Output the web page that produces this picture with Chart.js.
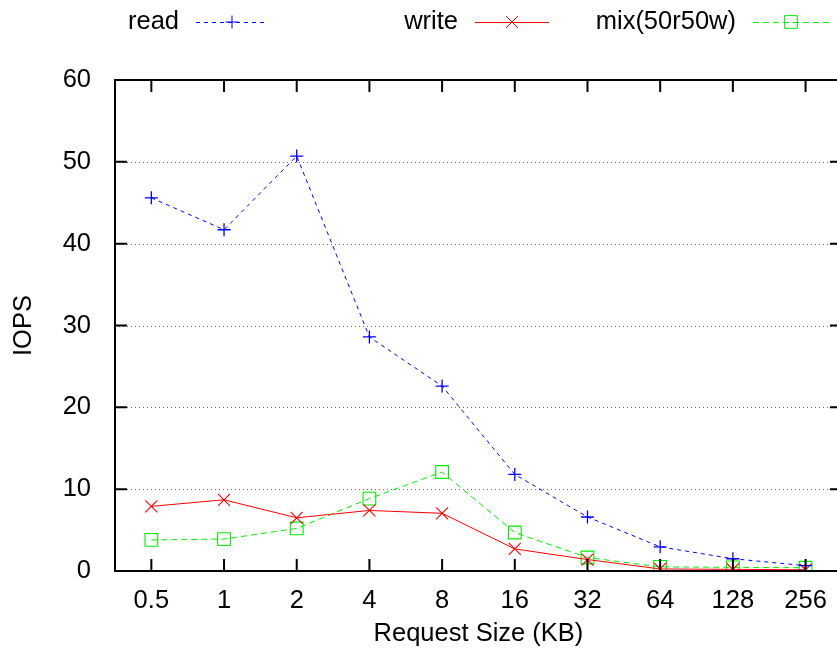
<!DOCTYPE html>
<html>
<head>
<meta charset="utf-8">
<script src="https://cdn.jsdelivr.net/npm/chart.js@4"></script>
<style>
  html, body { margin: 0; padding: 0; background: #fff; overflow: hidden; }
  #wrap { width: 837px; height: 655px; overflow: hidden; }
</style>
</head>
<body>
<div id="wrap"><canvas id="chart" width="852" height="655"></canvas></div>
<script>
const sizes = ['0.5', '1', '2', '4', '8', '16', '32', '64', '128', '256'];
const readIops = [45.6, 41.7, 50.7, 28.6, 22.6, 11.8, 6.6, 2.95, 1.5, 0.65];
const writeIops = [7.9, 8.7, 6.5, 7.4, 7.05, 2.7, 1.4, 0.25, 0.2, 0.15];
const mixIops = [3.8, 3.9, 5.2, 8.85, 12.1, 4.7, 1.65, 0.5, 0.45, 0.4];
const yTicks = [0, 10, 20, 30, 40, 50, 60];

const FONT = { family: '"Liberation Sans", Arial, sans-serif', size: 25.5 };

// legend slots: text right edge, sample start, sample end
const legendSlots = [
  { textRight: 179, x0: 196, x1: 268 },
  { textRight: 458, x0: 475, x1: 549 },
  { textRight: 736, x0: 753, x1: 829 }
];

// gnuplot-like frame, dotted grid, inward ticks and the legend row
const framePlugin = {
  id: 'frame',
  beforeDatasetsDraw(chart) {
    const { ctx, chartArea: a, scales: { y } } = chart;
    ctx.save();
    ctx.strokeStyle = '#666';
    ctx.lineWidth = 1;
    ctx.setLineDash([1, 3]);
    yTicks.forEach(v => {
      if (v === 0 || v === 60) return;
      const py = Math.round(y.getPixelForValue(v)) + 0.5;
      ctx.beginPath();
      ctx.moveTo(a.left, py);
      ctx.lineTo(a.right, py);
      ctx.stroke();
    });
    ctx.restore();
  },
  afterDraw(chart) {
    const { ctx, chartArea: a, scales: { x, y } } = chart;
    ctx.save();
    ctx.strokeStyle = '#000';
    ctx.lineWidth = 2;
    ctx.setLineDash([]);
    ctx.strokeRect(a.left, a.top, a.right - a.left, a.bottom - a.top);
    ctx.beginPath();
    yTicks.forEach(v => {
      const py = y.getPixelForValue(v);
      ctx.moveTo(a.left, py); ctx.lineTo(a.left + 12, py);
      ctx.moveTo(a.right, py); ctx.lineTo(a.right - 12, py);
    });
    sizes.forEach((s, i) => {
      const px = x.getPixelForValue(i);
      ctx.moveTo(px, a.bottom); ctx.lineTo(px, a.bottom - 12);
      ctx.moveTo(px, a.top); ctx.lineTo(px, a.top + 12);
    });
    ctx.stroke();

    // legend
    ctx.font = FONT.size + 'px ' + FONT.family;
    ctx.textBaseline = 'middle';
    ctx.textAlign = 'right';
    const ly = 22;
    chart.data.datasets.forEach((ds, i) => {
      const slot = legendSlots[i];
      ctx.fillStyle = '#000';
      ctx.fillText(ds.label, slot.textRight, ly);
      ctx.strokeStyle = ds.borderColor;
      ctx.lineWidth = 1;
      ctx.setLineDash(ds.borderDash || []);
      ctx.beginPath();
      ctx.moveTo(slot.x0, ly + 0.5);
      ctx.lineTo(slot.x1, ly + 0.5);
      ctx.stroke();
      ctx.setLineDash([]);
      ctx.fillStyle = 'rgba(0,0,0,0)';
      ctx.strokeStyle = ds.borderColor;
      Chart.helpers.drawPoint(ctx, {
        pointStyle: ds.pointStyle,
        radius: ds.pointRadius,
        borderWidth: 1.2,
        rotation: 0
      }, (slot.x0 + slot.x1) / 2, ly);
    });
    ctx.restore();
  }
};

const ctx = document.getElementById('chart');
const chart = new Chart(ctx, {
  type: 'line',
  data: {
    labels: sizes,
    datasets: [
      { label: 'read', data: readIops, borderColor: '#0000ff', borderWidth: 1,
        borderDash: [4, 4], pointStyle: 'cross', pointRadius: 6.5,
        pointBorderColor: '#0000ff', pointBorderWidth: 1.3, fill: false },
      { label: 'write', data: writeIops, borderColor: '#ff0000', borderWidth: 1,
        pointStyle: 'crossRot', pointRadius: 8.5,
        pointBorderColor: '#ff0000', pointBorderWidth: 1.1, fill: false },
      { label: 'mix(50r50w)', data: mixIops, borderColor: '#00ee00', borderWidth: 1,
        borderDash: [6, 4], pointStyle: 'rect', pointRadius: 9,
        pointBorderColor: '#00ee00', pointBackgroundColor: 'rgba(0,0,0,0)',
        pointBorderWidth: 1.1, fill: false }
    ]
  },
  options: {
    responsive: false,
    animation: false,
    devicePixelRatio: 1,
    layout: { padding: { left: 0, top: 80, right: 4, bottom: 0 } },
    plugins: { legend: { display: false }, tooltip: { enabled: false } },
    elements: { line: { tension: 0 } },
    scales: {
      x: {
        type: 'category',
        offset: true,
        grid: { display: false },
        border: { display: false },
        ticks: { color: '#000', font: FONT, padding: 7, maxRotation: 0, autoSkip: false },
        title: { display: true, text: 'Request Size (KB)', color: '#000', font: FONT,
                 padding: { top: 0, bottom: 6 } },
        afterFit(scale) { scale.height = 84; }
      },
      y: {
        min: 0, max: 60,
        afterBuildTicks(scale) { scale.ticks = yTicks.map(v => ({ value: v })); },
        grid: { display: false },
        border: { display: false },
        ticks: { color: '#000', font: FONT, padding: 16 },
        title: { display: true, text: 'IOPS', color: '#000', font: FONT,
                 padding: { top: 9, bottom: 0 } },
        afterFit(scale) { scale.width = 115; }
      }
    }
  },
  plugins: [framePlugin]
});
</script>
</body>
</html>
